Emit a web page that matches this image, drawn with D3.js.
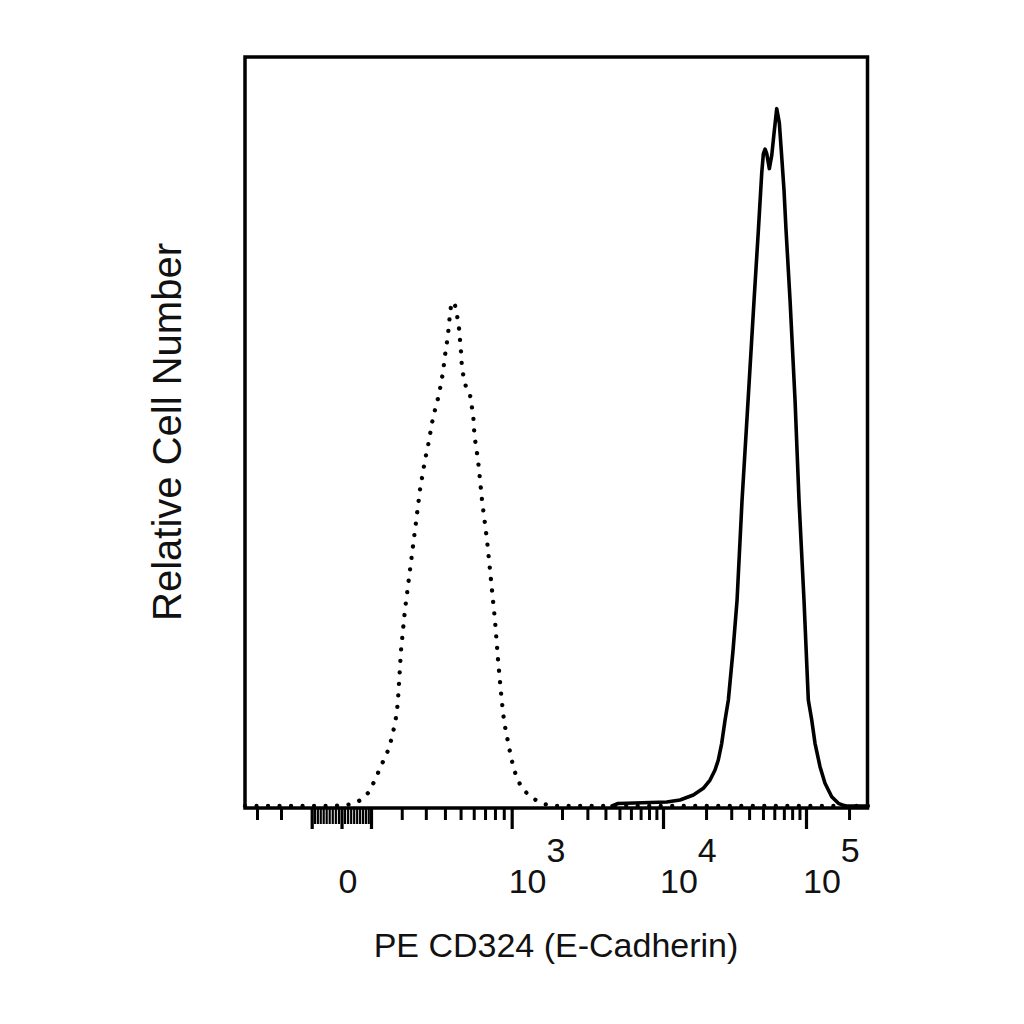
<!DOCTYPE html>
<html><head><meta charset="utf-8">
<script src="https://cdn.jsdelivr.net/npm/d3@7"></script>
<style>html,body{margin:0;padding:0;background:#fff;} svg{display:block}</style>
</head><body>
<svg id="chart" width="1024" height="1024"></svg>
<script>
// ---------- data (histograms in display channels 0..1023, relative counts) ----------
const isotypeChannel = [0, 139.6, 164.2, 177.3, 191.6, 202.5, 210.7, 218.9, 226.1, 233.7, 239.3, 243.5, 247.5, 250.1, 251.2, 256.2, 262.7, 270.9, 279.1, 287.3, 295.6, 302.6, 305.4, 309.2, 313.6, 318.6, 321.9, 325.6, 327.3, 330.1, 332.9, 335.0, 336.6, 339.4, 344.8, 348.6, 351.4, 353.1, 354.7, 355.8, 358.5, 362.4, 369.5, 372.3, 374.9, 376.0, 377.7, 382.6, 389.2, 397.4, 403.9, 410.5, 415.5, 421.5, 423.2, 425.3, 428.6, 432.4, 436.3, 440.6, 446.2, 454.4, 465.2, 479.0, 492.6, 506.3, 1023];
const isotypeCount   = [0, 0, 0.13, 0.27, 0.87, 1.78, 3.03, 4.50, 5.83, 7.17, 8.58, 10.0, 11.57, 13.18, 14.15, 20.8, 26.2, 31.5, 36.8, 42.2, 46.2, 48.95, 50.4, 52.0, 53.4, 54.96, 56.5, 58.1, 59.5, 61.1, 62.65, 64.3, 65.8, 67.3, 66.9, 65.3, 63.8, 62.2, 60.65, 59.1, 57.5, 56.1, 54.9, 53.4, 52.0, 50.4, 48.95, 46.2, 40.85, 35.5, 30.2, 24.8, 19.5, 14.15, 12.9, 11.4, 9.84, 8.37, 6.72, 5.25, 3.78, 2.44, 1.51, 0.71, 0.23, 0, 0];

const cd324Channel = [602.7, 612.5, 692.5, 714.3, 736.2, 752.6, 763.6, 771.8, 777.2, 782.8, 788.3, 793.7, 801.4, 808.0, 816.2, 826.1, 835.9, 843.0, 848.5, 851.2, 854.0, 856.7, 861.0, 865.0, 868.7, 873.1, 877.4, 881.3, 885.1, 888.4, 895.0, 903.2, 909.7, 917.9, 925.0, 930.6, 936.0, 944.2, 952.4, 963.4, 974.3, 985.3, 1021];
const cd324Count   = [0, 0.33, 0.53, 0.80, 1.47, 2.36, 3.47, 4.81, 6.14, 8.37, 11.48, 14.15, 20.8, 27.5, 40.85, 54.2, 67.55, 76.9, 84.5, 87.1, 87.7, 87.1, 85.1, 86.9, 89.8, 93.1, 91.2, 86.7, 82.2, 76.9, 67.55, 54.2, 40.85, 27.5, 14.15, 11.48, 8.37, 5.25, 3.03, 1.24, 0.36, 0, 0];

// ---------- axis ticks (fluorescence intensity) ----------
const majorTicks = [-100, 0, 100, 1000, 10000, 100000];
const nearZeroTicks = [-90, -80, -70, -60, -50, -40, -30, -20, -10, 10, 20, 30, 40, 50, 60, 70, 80, 90];
const minorTicks = [-300, -200,
  200, 300, 400, 500, 600, 700, 800, 900,
  2000, 3000, 4000, 5000, 6000, 7000, 8000, 9000,
  20000, 30000, 40000, 50000, 60000, 70000, 80000, 90000, 200000];
const labelValues = [0, 1000, 10000, 100000];
const labelBase = ["0", "10", "10", "10"];
const labelExp = ["", "3", "4", "5"];

// logicle-like display transform: intensity -> channel
const W = 200;
const g = v => Math.asinh(v / W);
const anchorValues = [-1000, -100, 0, 100, 1000, 2000, 10000, 100000];
const anchorChannels = [-121.0, 109.5, 158.5, 206.9, 437.9, 520.5, 686.4, 921.2];
const display = d3.scaleLinear().domain(anchorValues.map(g)).range(anchorChannels);

const FONT = "'Liberation Sans', Arial, Helvetica, sans-serif";
const svg = d3.select("#chart");
svg.append("rect").attr("width", 1024).attr("height", 1024).attr("fill", "#fff");

const x = d3.scaleLinear().domain([0, 1023]).range([245, 868]);
const y = d3.scaleLinear().domain([0, 100]).range([806, 57]);
const AXIS_Y = 808;

// ticks
const axes = [
  [minorTicks, 12, 3],
  [nearZeroTicks, 16, 2.2],
  [majorTicks, 21, 3.2]
];
axes.forEach(([vals, len, w]) => {
  const ax = d3.axisBottom(x).tickValues(vals.map(v => display(g(v)))).tickSize(len).tickFormat("");
  const gA = svg.append("g").attr("transform", `translate(0,${AXIS_Y})`).call(ax);
  gA.select(".domain").remove();
  gA.selectAll(".tick line").attr("stroke", "#000").attr("stroke-width", w);
});

// curves
const isoData = isotypeChannel.map((c, i) => [c, isotypeCount[i]]);
const cdData = cd324Channel.map((c, i) => [c, cd324Count[i]]);
const line = d3.line().x(d => x(d[0])).y(d => y(d[1]));

// frame
svg.append("rect").attr("x", 245).attr("y", 57).attr("width", 622.5).attr("height", AXIS_Y - 57)
  .attr("fill", "none").attr("stroke", "#000").attr("stroke-width", 3.5);

svg.append("path").datum(isoData).attr("d", line)
  .attr("fill", "none").attr("stroke", "#000").attr("stroke-width", 4.3)
  .attr("stroke-linecap", "round").attr("stroke-dasharray", "0.01 11.5");

svg.append("path").datum(cdData).attr("d", line)
  .attr("fill", "none").attr("stroke", "#000").attr("stroke-width", 3.6)
  .attr("stroke-linejoin", "round").attr("stroke-linecap", "round");

// tick labels
const lab = svg.append("g").attr("font-family", FONT).attr("font-size", 34).attr("fill", "#111");
labelValues.forEach((v, i) => {
  const px = x(display(g(v)));
  const t = lab.append("text").attr("x", px - 3).attr("y", 893).text(labelBase[i]);
  if (labelExp[i]) t.append("tspan").attr("dy", -31).text(labelExp[i]);
});

// axis titles
svg.append("text").attr("x", 556).attr("y", 957).attr("text-anchor", "middle")
  .attr("font-family", FONT).attr("font-size", 34).attr("fill", "#111")
  .text("PE CD324 (E-Cadherin)");
svg.append("text").attr("transform", "translate(181,432) rotate(-90)").attr("text-anchor", "middle")
  .attr("font-family", FONT).attr("font-size", 40).attr("fill", "#111")
  .text("Relative Cell Number");
</script>
</body></html>
